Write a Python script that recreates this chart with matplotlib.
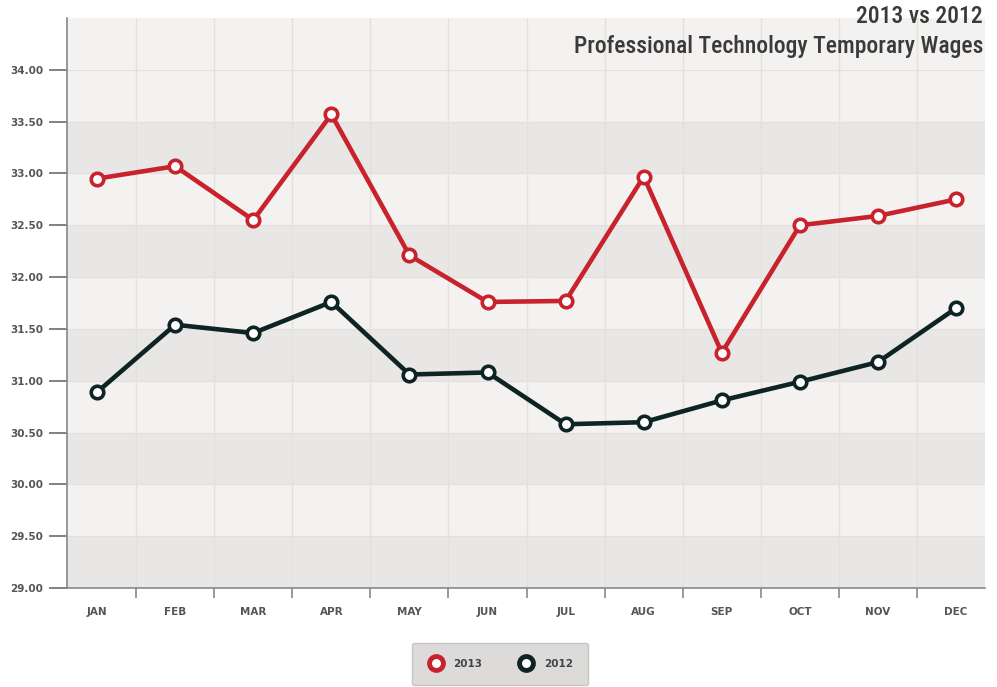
import numpy as np
import matplotlib.pyplot as plt
from matplotlib.lines import Line2D
from matplotlib import font_manager

months = ['JAN', 'FEB', 'MAR', 'APR', 'MAY', 'JUN', 'JUL', 'AUG', 'SEP', 'OCT', 'NOV', 'DEC']
wages_2013 = [32.95, 33.07, 32.55, 33.57, 32.21, 31.76, 31.77, 32.97, 31.27, 32.50, 32.59, 32.75]
wages_2012 = [30.89, 31.54, 31.46, 31.76, 31.06, 31.08, 30.58, 30.60, 30.81, 30.99, 31.18, 31.70]
y_ticks = [29.0, 29.5, 30.0, 30.5, 31.0, 31.5, 32.0, 32.5, 33.0, 33.5, 34.0]

red = '#c8232c'
dark = '#0e2424'

# narrowest available font for the title
names = {f.name for f in font_manager.fontManager.ttflist}
title_font = 'DejaVu Sans'
for name in ['Roboto Condensed', 'Liberation Sans Narrow', 'Roboto']:
    if name in names:
        title_font = name
        break

fig = plt.figure(figsize=(9.97, 6.87), dpi=100)
ax = fig.add_axes([67 / 997, 1 - 588 / 687, 918 / 997, 570 / 687])

x = np.arange(len(months))
ax.set_xlim(-0.385, 11.37)
ax.set_ylim(29, 34.5)

# alternating horizontal bands
ax.set_facecolor('#f4f2f0')
for lo in [29.0, 30.0, 31.0, 32.0, 33.0]:
    ax.axhspan(lo, lo + 0.5, color='#e9e7e5', zorder=0, lw=0)
for yv in y_ticks:
    ax.axhline(yv, color='#e2e0de', lw=0.8, zorder=0.5)
for b in x[:-1] + 0.5:
    ax.axvline(b, color='#e3e0de', lw=1.0, zorder=0.5)

ax.plot(x, wages_2013, color=red, lw=3.3, marker='o', ms=9, mfc='white',
        mec=red, mew=2.6, zorder=3, solid_capstyle='round')
ax.plot(x, wages_2012, color=dark, lw=3.3, marker='o', ms=9, mfc='white',
        mec=dark, mew=2.6, zorder=3, solid_capstyle='round')

ax.set_yticks(y_ticks)
ax.set_yticklabels(['%.2f' % v for v in y_ticks])
ax.tick_params(axis='y', length=13, width=1.3, color='#777777', pad=4,
               labelsize=7.5, labelcolor='#555555')
for t in ax.get_yticklabels():
    t.set_fontweight('bold')

ax.set_xticks(x)
ax.set_xticklabels(months)
ax.tick_params(axis='x', length=0, pad=14, labelsize=7.5, labelcolor='#555555')
for t in ax.get_xticklabels():
    t.set_fontweight('bold')
ax.set_xticks(x[:-1] + 0.5, minor=True)
ax.tick_params(axis='x', which='minor', length=7, width=1.2, color='#888888')

for s in ['top', 'right']:
    ax.spines[s].set_visible(False)
ax.spines['left'].set_color('#888888')
ax.spines['bottom'].set_color('#888888')
ax.spines['left'].set_linewidth(1.2)
ax.spines['bottom'].set_linewidth(1.2)

fig.text(983 / 997, 1 - 5 / 687, '2013 vs 2012', ha='right', va='top',
         fontsize=17, color='#3a3a3a', family=title_font, fontweight='medium')
fig.text(983 / 997, 1 - 35 / 687, 'Professional Technology Temporary Wages', ha='right', va='top',
         fontsize=17, color='#3a3a3a', family=title_font, fontweight='medium')

handles = [Line2D([], [], ls='none', marker='o', ms=10, mfc='white', mec=red, mew=3.5),
           Line2D([], [], ls='none', marker='o', ms=10, mfc='white', mec=dark, mew=3.5)]
leg = fig.legend(handles, ['2013', '2012'], loc='center', bbox_to_anchor=(500 / 997, 1 - 664 / 687),
                 ncol=2, frameon=True, fontsize=7.5, handletextpad=0.9, columnspacing=3.4,
                 borderpad=1.5, handlelength=1.6, fancybox=True)
leg.get_frame().set_facecolor('#dddbda')
leg.get_frame().set_edgecolor('#c8c6c4')
leg.get_frame().set_alpha(1)
for t in leg.get_texts():
    t.set_fontweight('bold')
    t.set_color('#444444')

fig.savefig('out.png', dpi=100)
